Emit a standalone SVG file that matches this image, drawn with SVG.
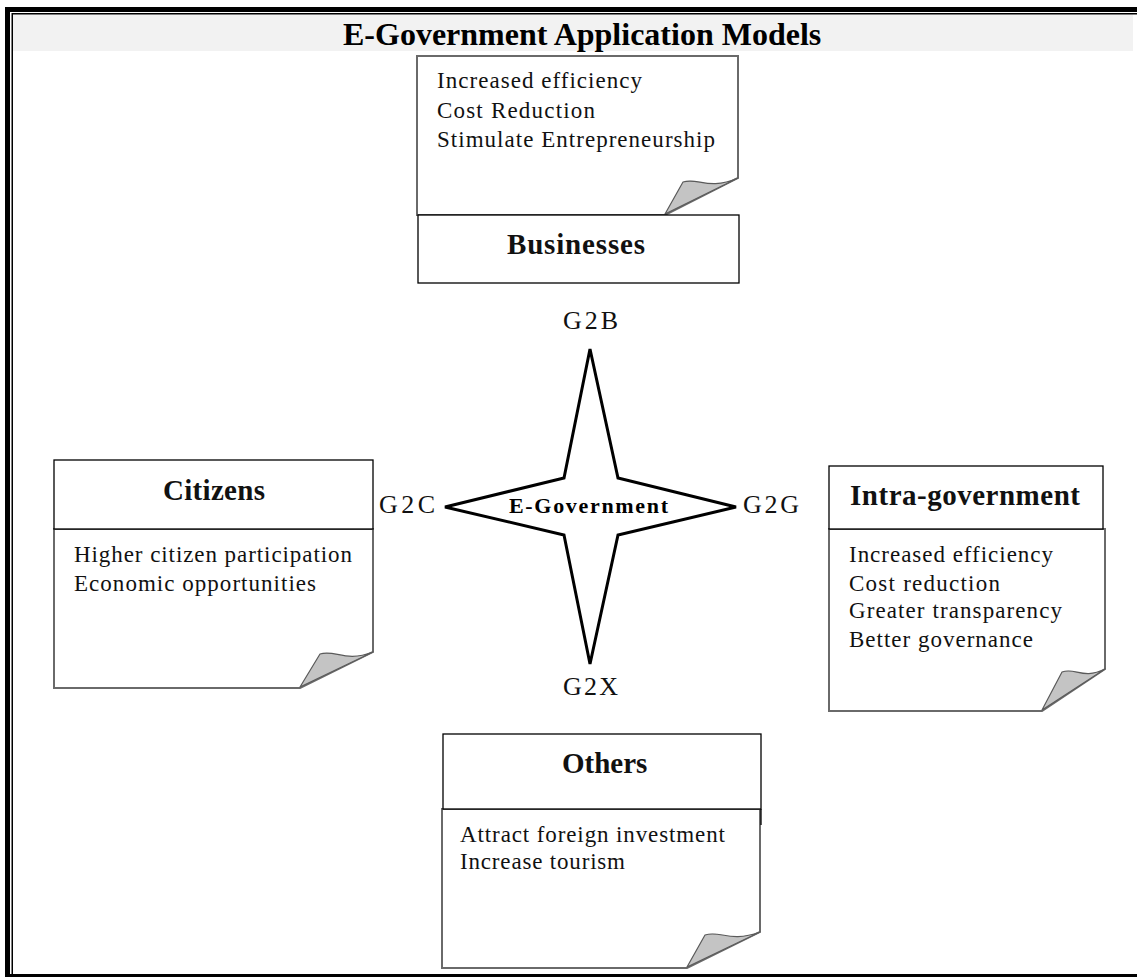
<svg xmlns="http://www.w3.org/2000/svg" width="1137" height="977" viewBox="0 0 1137 977">
<style>
.note{fill:#fff;stroke:#6a6a6a;stroke-width:2;stroke-linejoin:miter}
.fold{fill:#c4c4c4;stroke:#5a5a5a;stroke-width:1.2;stroke-linejoin:round}
.hdr{fill:#fff;stroke:#000;stroke-width:1.3}
.t{font-family:"Liberation Serif","Times New Roman",serif;font-size:23px;fill:#111}
.lbl{font-family:"Liberation Serif","Times New Roman",serif;font-size:29px;font-weight:bold;fill:#111}
.g{font-family:"Liberation Serif","Times New Roman",serif;font-size:26px;fill:#111}
</style>
<rect x="0" y="0" width="1137" height="977" fill="#fff"/>
<g id="frame">
<rect x="13" y="14" width="1120" height="37" fill="#f2f2f2"/>
<rect x="5" y="7" width="1132" height="5" fill="#000"/>
<rect x="12" y="13" width="1125" height="1.5" fill="#000"/>
<rect x="5" y="7" width="5" height="970" fill="#000"/>
<rect x="11.5" y="13" width="1.5" height="964" fill="#000"/>
<rect x="5" y="974" width="1132" height="3" fill="#000"/>
<text x="343" y="45" font-family="'Liberation Serif','Times New Roman',serif" font-size="32" font-weight="bold" fill="#000">E-Government Application Models</text>
</g>
<g id="businesses">
<path class="note" d="M417,56 L738,56 L738,178 L665,215 L417,215 Z"/>
<path class="fold" d="M665,214 L683,182 C698,177 708,191 738,178 Z"/>
<rect class="hdr" x="418" y="215" width="321" height="68"/>
<text class="t" x="437" y="88" textLength="205" lengthAdjust="spacing">Increased efficiency</text>
<text class="t" x="437" y="118" textLength="158" lengthAdjust="spacing">Cost Reduction</text>
<text class="t" x="437" y="147" textLength="278" lengthAdjust="spacing">Stimulate Entrepreneurship</text>
<text class="lbl" x="507" y="254" textLength="138" lengthAdjust="spacing">Businesses</text>
</g>
<g id="citizens">
<path class="note" d="M54,529 L373,529 L373,652 L300,688 L54,688 Z"/>
<path class="fold" d="M300,687 L320,654 C335,649 345,663 373,652 Z"/>
<rect class="hdr" x="54" y="460" width="319" height="69"/>
<text class="lbl" x="163" y="500" textLength="102" lengthAdjust="spacing">Citizens</text>
<text class="t" x="74" y="562" textLength="278" lengthAdjust="spacing">Higher citizen participation</text>
<text class="t" x="74" y="591" textLength="242" lengthAdjust="spacing">Economic opportunities</text>
</g>
<g id="intra-government">
<path class="note" d="M829,529 L1105,529 L1105,669 L1042,711 L829,711 Z"/>
<path class="fold" d="M1042,710 L1062,672 C1075,667 1083,680 1105,669 Z"/>
<rect class="hdr" x="829" y="466" width="274" height="63"/>
<text class="lbl" x="850" y="505" textLength="230" lengthAdjust="spacing">Intra-government</text>
<text class="t" x="849" y="562" textLength="204" lengthAdjust="spacing">Increased efficiency</text>
<text class="t" x="849" y="591" textLength="151" lengthAdjust="spacing">Cost reduction</text>
<text class="t" x="849" y="618" textLength="213" lengthAdjust="spacing">Greater transparency</text>
<text class="t" x="849" y="647" textLength="184" lengthAdjust="spacing">Better governance</text>
</g>
<g id="others">
<path class="note" d="M442,809 L760,809 L760,932 L687,968 L442,968 Z"/>
<path class="fold" d="M687,967 L705,935 C720,930 730,943 760,932 Z"/>
<rect class="hdr" x="443" y="734" width="318" height="75"/>
<line x1="761" y1="809" x2="761" y2="825" stroke="#000" stroke-width="1.3"/>
<text class="lbl" x="562" y="773">Others</text>
<text class="t" x="460" y="842" textLength="265" lengthAdjust="spacing">Attract foreign investment</text>
<text class="t" x="460" y="869" textLength="165" lengthAdjust="spacing">Increase tourism</text>
</g>
<g id="e-government">
<polygon points="590,349 618,478 736,507 618,535 590,664 564,535 445,507 564,478" fill="#fff" stroke="#000" stroke-width="3" stroke-linejoin="miter"/>
<text x="509" y="513" font-family="'Liberation Serif','Times New Roman',serif" font-size="22" font-weight="bold" fill="#000" textLength="159" lengthAdjust="spacing">E-Government</text>
</g>
<g id="connectors">
<text class="g" x="563" y="329" textLength="55" lengthAdjust="spacing">G2B</text>
<text class="g" x="379" y="513" textLength="56" lengthAdjust="spacing">G2C</text>
<text class="g" x="743" y="513" textLength="56" lengthAdjust="spacing">G2G</text>
<text class="g" x="563" y="695" textLength="55" lengthAdjust="spacing">G2X</text>
</g>
</svg>
